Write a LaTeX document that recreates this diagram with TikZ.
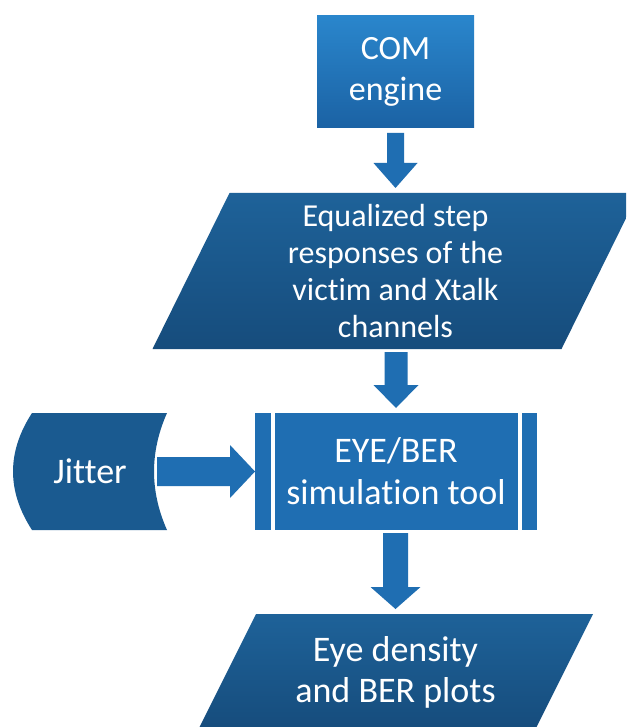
\documentclass[tikz,border=0pt]{standalone}
\usepackage{fontspec}
\setmainfont{Carlito}[Ligatures=NoCommon]
\usetikzlibrary{calc,backgrounds}
\definecolor{midblue}{HTML}{1F6EB2}
\definecolor{comtop}{HTML}{2A86CC}
\definecolor{combot}{HTML}{1B62A4}
\definecolor{darktop}{HTML}{1E6299}
\definecolor{darkbot}{HTML}{164C7C}
\definecolor{jitblue}{HTML}{1A5A90}
\tikzset{
  lbl/.style={text=white, align=center, inner sep=0pt, outer sep=0pt},
  arrowfill/.style={fill=midblue},
  darkshade/.style={top color=darktop, bottom color=darkbot},
}
% vertical block arrow: from, to, gap at source, gap at target, half shaft, half head, head length
\newcommand\vblock[7]{%
  \fill[arrowfill] let \p1=(#1.south), \p2=(#2.north) in
    (\x2,\y2+#4) -- (\x2+#6,\y2+#4+#7) -- (\x2+#5,\y2+#4+#7) -- (\x2+#5,\y1-#3)
    -- (\x2-#5,\y1-#3) -- (\x2-#5,\y2+#4+#7) -- (\x2-#6,\y2+#4+#7) -- cycle;}
% horizontal block arrow
\newcommand\hblock[7]{%
  \fill[arrowfill] let \p1=(#1.east), \p2=(#2.west) in
    (\x2-#4,\y2) -- (\x2-#4-#7,\y2+#6) -- (\x2-#4-#7,\y2+#5) -- (\x1+#3,\y2+#5)
    -- (\x1+#3,\y2-#5) -- (\x2-#4-#7,\y2-#5) -- (\x2-#4-#7,\y2-#6) -- cycle;}
\begin{document}
\begin{tikzpicture}[x=1pt,y=-1pt]
\useasboundingbox (0,0) rectangle (626,727);

\node[lbl, minimum width=157pt, minimum height=115pt, font=\fontsize{34}{41}\selectfont]
  (com) at (395.5,72) {COM\\engine};
\node[lbl, minimum width=409pt, minimum height=156pt, font=\fontsize{32}{36.7}\selectfont]
  (eq) at (395.5,271) {Equalized step\\responses of the\\victim and Xtalk\\channels};
\node[lbl, minimum width=282pt, minimum height=117pt, font=\fontsize{36}{42}\selectfont]
  (eye) at (396,471.5) {EYE/BER\\simulation tool};
\node[lbl, minimum width=128pt, minimum height=117pt, font=\fontsize{36}{42}\selectfont]
  (jit) at (90,471.5) {Jitter};
\node[lbl, minimum width=337pt, minimum height=116pt, font=\fontsize{36}{41}\selectfont]
  (out) at (395.5,672) {Eye density\\and BER plots};

\begin{scope}[on background layer]
  \clip (0,0) rectangle (626,727);
  \fill[white] (0,0) rectangle (626,727);
  \shade[top color=comtop, bottom color=combot] ([yshift=-1.5pt]com.north west) rectangle ([yshift=1.5pt]com.south east);
  \shade[darkshade] ([xshift=38.5pt]eq.north west) -- ([xshift=38.5pt]eq.north east)
    -- ([xshift=-38.5pt]eq.south east) -- ([xshift=-38.5pt]eq.south west) -- cycle;
  \fill[midblue] (eye.north west) rectangle (eye.south east);
  \draw[white, line width=4pt] ([xshift=17.5pt]eye.north west) -- ([xshift=17.5pt]eye.south west);
  \draw[white, line width=4pt] ([xshift=-17.5pt]eye.north east) -- ([xshift=-17.5pt]eye.south east);
  \fill[jitblue] ($(jit.north west)+(6,0)$) -- ($(jit.north east)+(13,0)$)
    .. controls ($(jit.north east)+(-4.3,39)$) and ($(jit.south east)+(-4.3,-39)$) .. ($(jit.south east)+(13,0)$)
    -- ($(jit.south west)+(6,0)$)
    .. controls ($(jit.south west)+(-19.3,-39)$) and ($(jit.north west)+(-19.3,39)$) .. ($(jit.north west)+(6,0)$)
    -- cycle;
  \shade[darkshade] ([xshift=29pt]out.north west) -- ([xshift=29pt]out.north east)
    -- ([xshift=-29pt]out.south east) -- ([xshift=-29pt]out.south west) -- cycle;
\end{scope}

\vblock{com}{eq}{3.5pt}{5pt}{8.5pt}{22pt}{25pt}
\vblock{eq}{eye}{3pt}{5pt}{11.5pt}{22.5pt}{23pt}
\vblock{eye}{out}{3pt}{5pt}{12.5pt}{25pt}{22pt}
\hblock{jit}{eye}{3pt}{0pt}{14.5pt}{26.5pt}{25pt}
\end{tikzpicture}
\end{document}
